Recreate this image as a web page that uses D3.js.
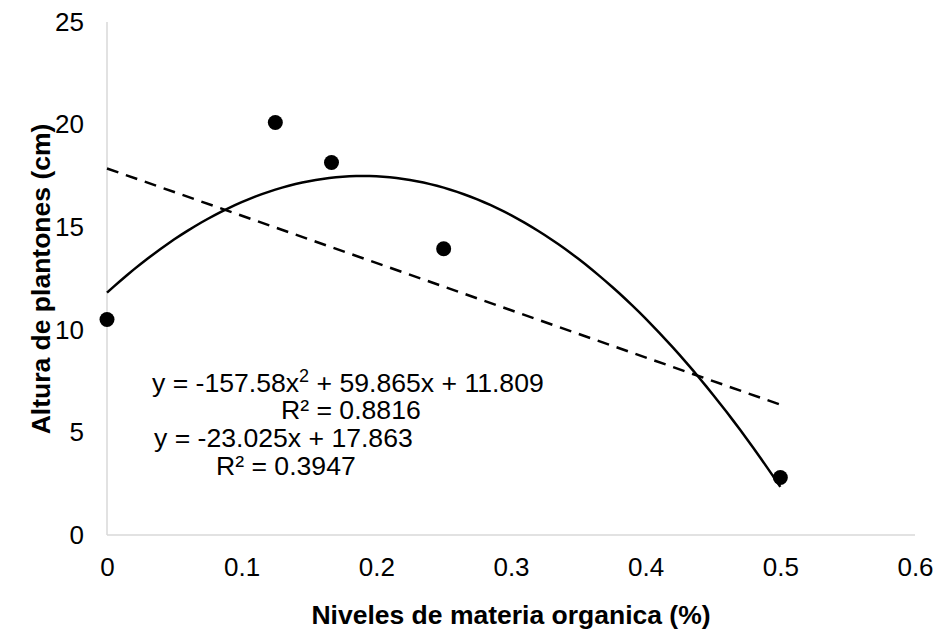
<!DOCTYPE html>
<html>
<head>
<meta charset="utf-8">
<script src="https://cdn.jsdelivr.net/npm/d3@7"></script>
<style>
  body { margin: 0; background: #fff; }
  text { font-family: "Liberation Sans", Arial, sans-serif; }
</style>
</head>
<body>
<svg id="chart"></svg>
<script>
let xValues = [0, 0.125, 0.1667, 0.25, 0.5];
let yValues = [10.5, 20.1, 18.15, 13.95, 2.8];
let xTicks = [0, 0.1, 0.2, 0.3, 0.4, 0.5, 0.6];
let yTicks = [0, 5, 10, 15, 20, 25];
let polyCoef = [11.809, 59.865, -157.58];
let linCoef = [17.863, -23.025];

let width = 941, height = 629, fontSize = 26;
let margin = {left: 107, right: 26, top: 22, bottom: 94};

let svg = d3.select('#chart')
            .attr('width', width)
            .attr('height', height);

let x = d3.scaleLinear().domain([0, 0.6]).range([margin.left, width - margin.right]);
let y = d3.scaleLinear().domain([0, 25]).range([height - margin.bottom, margin.top]);

// axis lines
svg.append('line')
   .attr('x1', x(0)).attr('x2', x(0.6))
   .attr('y1', y(0)).attr('y2', y(0))
   .attr('stroke', '#d9d9d9').attr('stroke-width', 1.5);
svg.append('line')
   .attr('x1', x(0)).attr('x2', x(0))
   .attr('y1', y(0)).attr('y2', y(25))
   .attr('stroke', '#d9d9d9').attr('stroke-width', 1.5);

let xAxis = svg.append('g')
               .attr('transform', 'translate(0,' + y(0) + ')')
               .call(d3.axisBottom(x).tickValues(xTicks).tickSize(0).tickPadding(23).tickFormat(d => d));
let yAxis = svg.append('g')
               .attr('transform', 'translate(' + x(0) + ',0)')
               .call(d3.axisLeft(y).tickValues(yTicks).tickSize(0).tickPadding(23));
[xAxis, yAxis].forEach(function(a) {
    a.select('.domain').remove();
    a.selectAll('text')
     .attr('font-size', fontSize)
     .attr('font-family', '"Liberation Sans", Arial, sans-serif')
     .attr('fill', '#000');
});

// trendlines
let curveX = d3.range(0, 0.5001, 0.005);
let line = d3.line()
             .x(d => x(d[0]))
             .y(d => y(d[1]));

svg.append('path')
   .datum(curveX.map(v => [v, polyCoef[0] + polyCoef[1] * v + polyCoef[2] * v * v]))
   .attr('d', line)
   .attr('fill', 'none')
   .attr('stroke', '#000')
   .attr('stroke-width', 2.5);

svg.append('path')
   .datum([0, 0.5].map(v => [v, linCoef[0] + linCoef[1] * v]))
   .attr('d', line)
   .attr('fill', 'none')
   .attr('stroke', '#000')
   .attr('stroke-width', 2.5)
   .attr('stroke-dasharray', '12,8');

// points
svg.selectAll('circle')
   .data(xValues)
   .enter()
   .append('circle')
   .attr('cx', d => x(d))
   .attr('cy', (d, i) => y(yValues[i]))
   .attr('r', 7.5)
   .attr('fill', '#000');

// equations
let eqs = [
    {t: 'y = -157.58x', sup: '2', rest: ' + 59.865x + 11.809', x: 152, y: 392},
    {t: 'R² = 0.8816', x: 281, y: 419},
    {t: 'y = -23.025x + 17.863', x: 154, y: 447},
    {t: 'R² = 0.3947', x: 216, y: 475}
];
eqs.forEach(function(d) {
    let t = svg.append('text')
               .attr('x', d.x)
               .attr('y', d.y)
               .attr('font-size', 26.6);
    t.append('tspan').text(d.t);
    if (d.sup) {
        t.append('tspan').attr('font-size', 18).attr('dy', -10).text(d.sup);
        t.append('tspan').attr('dy', 10).text(d.rest);
    }
});

// axis titles
svg.append('text')
   .attr('x', 511).attr('y', 624)
   .attr('text-anchor', 'middle')
   .attr('font-size', 26.5)
   .attr('font-weight', 'bold')
   .text('Niveles de materia organica (%)');

svg.append('text')
   .attr('transform', 'translate(50,279) rotate(-90)')
   .attr('text-anchor', 'middle')
   .attr('font-size', 26.5)
   .attr('font-weight', 'bold')
   .text('Altura de plantones (cm)');
</script>
</body>
</html>
